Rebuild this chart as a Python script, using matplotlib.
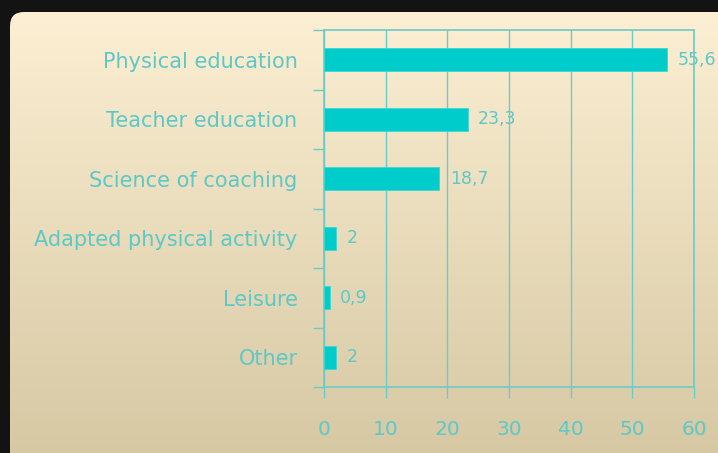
import numpy as np
import matplotlib
matplotlib.use("Agg")
import matplotlib.pyplot as plt
from matplotlib.patches import FancyBboxPatch

categories = ["Physical education", "Teacher education", "Science of coaching",
              "Adapted physical activity", "Leisure", "Other"]
values = [55.6, 23.3, 18.7, 2, 0.9, 2]
value_labels = ["55,6", "23,3", "18,7", "2", "0,9", "2"]
xticks = [0, 10, 20, 30, 40, 50, 60]

W, H = 718, 453
fig = plt.figure(figsize=(W / 100, H / 100), dpi=100)
fig.patch.set_facecolor("#131313")

# background panel with gradient
bg = fig.add_axes([0, 0, 1, 1])
bg.set_xlim(0, W)
bg.set_ylim(H, 0)
bg.axis("off")
top = np.array([252, 239, 211]) / 255
bot = np.array([210, 196, 158]) / 255
t = np.linspace(0, 1, 256)[:, None]
grad = (top[None, :] * (1 - t) + bot[None, :] * t)[:, None, :]
grad = np.repeat(grad, 2, axis=1)
panel = FancyBboxPatch((10, 12), W + 40, H + 40,
                       boxstyle="round,pad=0,rounding_size=14",
                       facecolor="none", edgecolor="none", linewidth=0)
bg.add_patch(panel)
im = bg.imshow(grad, extent=[10, W + 50, H + 50, 12], aspect="auto", zorder=0)
im.set_clip_path(panel)

text_color = "#5cc8c8"
line_color = "#6ccbc8"
bar_color = "#00cccc"

ax = fig.add_axes([324 / W, 1 - 387 / H, (694 - 324) / W, (387 - 30) / H])
ax.set_facecolor("none")
n = len(categories)
ypos = np.arange(n)
ax.barh(ypos, values, height=0.38, color=bar_color, edgecolor="#3fd6d2", linewidth=0.6, zorder=3)
ax.set_xlim(0, 60)
ax.set_ylim(n - 0.5, -0.5)

for y, v, lab in zip(ypos, values, value_labels):
    ax.text(v + 1.7, y, lab, va="center", ha="left", fontsize=12.5, color=text_color, zorder=4)

ax.set_xticks(xticks)
ax.set_xticklabels([str(x) for x in xticks])
ax.set_yticks(np.arange(n + 1) - 0.5, minor=False)
ax.set_yticklabels([""] * (n + 1))
ax.set_yticks(ypos, minor=True)
ax.set_yticklabels(categories, minor=True)
ax.tick_params(axis="y", which="major", length=8, width=1, color=line_color)
ax.tick_params(axis="y", which="minor", length=0, pad=19, labelsize=15, labelcolor=text_color)
ax.tick_params(axis="x", length=8, width=1, color=line_color, pad=16,
               labelsize=14.5, labelcolor=text_color)
ax.xaxis.grid(True, color=line_color, linewidth=1, zorder=1)
ax.set_axisbelow(True)
for s in ax.spines.values():
    s.set_color(line_color)
    s.set_linewidth(1.2)

fig.savefig("out.png", dpi=100, facecolor=fig.get_facecolor())
